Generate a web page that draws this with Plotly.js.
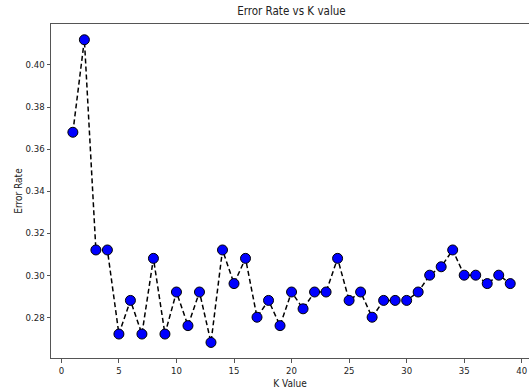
<!DOCTYPE html>
<html>
<head>
<meta charset="utf-8">
<script src="https://cdn.plot.ly/plotly-3.0.1.min.js"></script>
<style>html,body{margin:0;padding:0;background:#fff;}#chart{width:529px;height:389px;}</style>
</head>
<body>
<div id="chart"></div>
<script>
const kValues = [1,2,3,4,5,6,7,8,9,10,11,12,13,14,15,16,17,18,19,20,21,22,23,24,25,26,27,28,29,30,31,32,33,34,35,36,37,38,39];
const errorRate = [0.368,0.412,0.312,0.312,0.272,0.288,0.272,0.308,0.272,0.292,0.276,0.292,0.268,0.312,0.296,0.308,0.280,0.288,0.276,0.292,0.284,0.292,0.292,0.308,0.288,0.292,0.280,0.288,0.288,0.288,0.292,0.300,0.304,0.312,0.300,0.300,0.296,0.300,0.296];
const xTicks = [0,5,10,15,20,25,30,35,40];
const yTicks = [0.28,0.30,0.32,0.34,0.36,0.38,0.40];

const fontFam = '"DejaVu Sans Condensed", "Liberation Sans Narrow", "DejaVu Sans", sans-serif';

Plotly.newPlot('chart', [{
  x: kValues,
  y: errorRate,
  type: 'scatter',
  mode: 'lines+markers',
  line: {color: '#000', width: 1.5, dash: '5px,3px'},
  marker: {color: '#0000ff', size: 10, line: {color: '#000', width: 1}},
  hoverinfo: 'none'
}], {
  width: 529, height: 389,
  margin: {l: 51, r: 0, t: 24, b: 31, pad: 0},
  paper_bgcolor: '#fff', plot_bgcolor: '#fff',
  showlegend: false,
  font: {family: fontFam, color: '#222', size: 9.5},
  title: {text: 'Error Rate vs K value', x: 0.503, xref: 'paper', xanchor: 'center', y: 1, yref: 'container', yanchor: 'top', pad: {t: 7}, font: {size: 11.5, family: fontFam, color: '#222'}},
  xaxis: {
    range: [-0.9, 40.63], tickvals: xTicks, ticktext: xTicks.map(String),
    showgrid: false, zeroline: false, showline: true, linecolor: '#555', linewidth: 1, mirror: true,
    ticks: 'outside', ticklen: 3.5, tickcolor: '#555', tickwidth: 1,
    tickfont: {size: 9.5, family: fontFam, color: '#222'},
    title: {text: 'K Value', font: {size: 10, family: fontFam, color: '#222'}, standoff: 5}
  },
  yaxis: {
    range: [0.2606, 0.4195], tickvals: yTicks, ticktext: yTicks.map(v => v.toFixed(2)),
    showgrid: false, zeroline: false, showline: true, linecolor: '#555', linewidth: 1,
    ticks: 'outside', ticklen: 3.5, tickcolor: '#555', tickwidth: 1,
    tickfont: {size: 9.5, family: fontFam, color: '#222'},
    title: {text: 'Error Rate', font: {size: 10, family: fontFam, color: '#222'}, standoff: 1}
  }
}, {staticPlot: true});
</script>
</body>
</html>
